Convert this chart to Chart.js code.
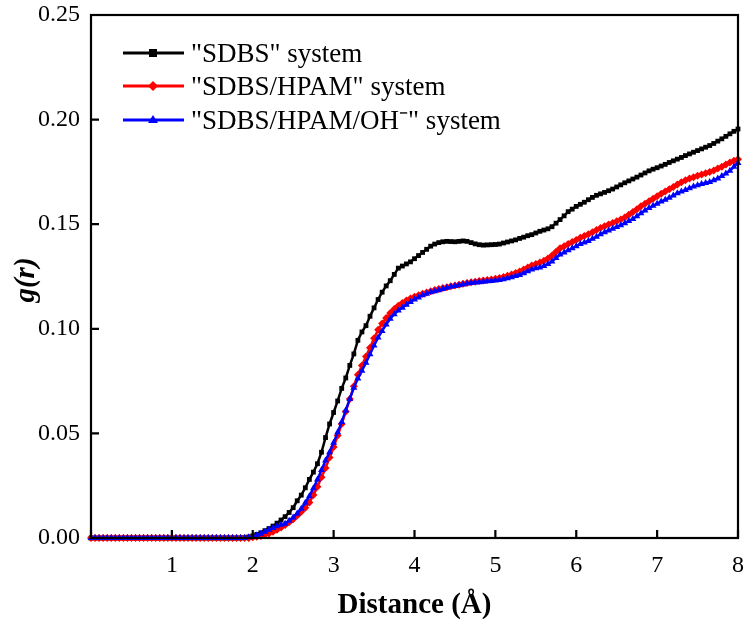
<!DOCTYPE html>
<html>
<head>
<meta charset="utf-8">
<script src="https://cdn.jsdelivr.net/npm/chart.js@4"></script>
<style>
  html, body { margin: 0; padding: 0; background: #fff; }
  #wrap { width: 748px; height: 631px; }
</style>
</head>
<body>
<div id="wrap"><canvas id="rdfChart" width="748" height="631"></canvas></div>
<script>
// distance (Å), step 0.05 from 0 to 8
const distance = [];
for (let i = 0; i <= 160; i++) distance.push(+(i * 0.05).toFixed(2));

const zeros = n => new Array(n).fill(0);

// g(r) values
const sdbs = zeros(38).concat([
  0.0002, 0.0005, 0.0010, 0.0017, 0.0025, 0.0035, 0.0045, 0.0057, 0.0071, 0.0086,
  0.0102, 0.0122, 0.0145, 0.0178, 0.0205, 0.0240, 0.0280, 0.0315, 0.0355, 0.0410,
  0.0480, 0.0545, 0.0600, 0.0655, 0.0715, 0.0765, 0.0825, 0.0880, 0.0945, 0.0985,
  0.1015, 0.1060, 0.1100, 0.1140, 0.1175, 0.1205, 0.1230, 0.1260, 0.1290, 0.1300,
  0.1310, 0.1320, 0.1335, 0.1350, 0.1365, 0.1380, 0.1395, 0.1405, 0.1412, 0.1416,
  0.1418, 0.1417, 0.1416, 0.1418, 0.1420, 0.1418, 0.1412, 0.1406, 0.1402, 0.1400,
  0.1401, 0.1402, 0.1403, 0.1405, 0.1410, 0.1415, 0.1420, 0.1425, 0.1432, 0.1438,
  0.1445, 0.1450, 0.1458, 0.1466, 0.1472, 0.1478, 0.1488, 0.1505, 0.1522, 0.1540,
  0.1560, 0.1572, 0.1585, 0.1595, 0.1605, 0.1617, 0.1628, 0.1638, 0.1645, 0.1652,
  0.1660, 0.1668, 0.1678, 0.1688, 0.1698, 0.1707, 0.1716, 0.1725, 0.1735, 0.1745,
  0.1755, 0.1763, 0.1770, 0.1778, 0.1786, 0.1795, 0.1803, 0.1811, 0.1819, 0.1828,
  0.1836, 0.1844, 0.1852, 0.1860, 0.1868, 0.1876, 0.1886, 0.1897, 0.1908, 0.1920,
  0.1932, 0.1944, 0.1955
]);

const sdbsHpam = zeros(40).concat([
  0.0003, 0.0006, 0.0010, 0.0015, 0.0022, 0.0030, 0.0040, 0.0050, 0.0062, 0.0075,
  0.0090, 0.0107, 0.0125, 0.0145, 0.0170, 0.0205, 0.0245, 0.0290, 0.0335, 0.0385,
  0.0435, 0.0490, 0.0545, 0.0605, 0.0665, 0.0725, 0.0780, 0.0825, 0.0868, 0.0910,
  0.0955, 0.0995, 0.1025, 0.1052, 0.1075, 0.1095, 0.1110, 0.1123, 0.1135, 0.1145,
  0.1153, 0.1160, 0.1167, 0.1174, 0.1180, 0.1185, 0.1190, 0.1195, 0.1199, 0.1203,
  0.1207, 0.1211, 0.1215, 0.1219, 0.1222, 0.1225, 0.1228, 0.1231, 0.1233, 0.1236,
  0.1239, 0.1243, 0.1248, 0.1254, 0.1260, 0.1267, 0.1274, 0.1283, 0.1293, 0.1302,
  0.1310, 0.1317, 0.1325, 0.1336, 0.1350, 0.1368, 0.1385, 0.1395, 0.1405, 0.1415,
  0.1425, 0.1435, 0.1443, 0.1452, 0.1462, 0.1472, 0.1482, 0.1490, 0.1498, 0.1506,
  0.1514, 0.1522, 0.1532, 0.1545, 0.1558, 0.1572, 0.1586, 0.1598, 0.1610, 0.1622,
  0.1634, 0.1645, 0.1656, 0.1667, 0.1678, 0.1690, 0.1700, 0.1710, 0.1718, 0.1725,
  0.1731, 0.1737, 0.1743, 0.1749, 0.1757, 0.1766, 0.1775, 0.1785, 0.1795, 0.1803,
  0.1810
]);

const sdbsHpamOh = zeros(39).concat([
  0.0003, 0.0007, 0.0013, 0.0020, 0.0030, 0.0040, 0.0048, 0.0056, 0.0063, 0.0068,
  0.0082, 0.0098, 0.0117, 0.0140, 0.0168, 0.0200, 0.0238, 0.0280, 0.0325, 0.0370,
  0.0410, 0.0455, 0.0505, 0.0555, 0.0610, 0.0665, 0.0718, 0.0762, 0.0800, 0.0838,
  0.0878, 0.0920, 0.0958, 0.0990, 0.1020, 0.1048, 0.1070, 0.1087, 0.1101, 0.1115,
  0.1128, 0.1140, 0.1150, 0.1160, 0.1168, 0.1175, 0.1180, 0.1184, 0.1190, 0.1196,
  0.1201, 0.1205, 0.1208, 0.1212, 0.1216, 0.1219, 0.1221, 0.1223, 0.1225, 0.1227,
  0.1229, 0.1231, 0.1233, 0.1237, 0.1242, 0.1247, 0.1252, 0.1257, 0.1265, 0.1275,
  0.1283, 0.1289, 0.1293, 0.1300, 0.1310, 0.1322, 0.1338, 0.1355, 0.1365, 0.1375,
  0.1385, 0.1395, 0.1405, 0.1413, 0.1420, 0.1430, 0.1440, 0.1452, 0.1462, 0.1470,
  0.1478, 0.1487, 0.1495, 0.1505, 0.1515, 0.1525, 0.1538, 0.1552, 0.1566, 0.1578,
  0.1588, 0.1598, 0.1608, 0.1617, 0.1627, 0.1637, 0.1648, 0.1656, 0.1664, 0.1672,
  0.1680, 0.1686, 0.1692, 0.1697, 0.1702, 0.1710, 0.1718, 0.1730, 0.1742, 0.1755,
  0.1775, 0.1792
]);

const seriesNames = ['"SDBS" system', '"SDBS/HPAM" system', '"SDBS/HPAM/OH\u207B" system'];
const seriesColors = ['#000000', '#ff0000', '#0000ff'];
const seriesMarkers = ['rect', 'rectRot', 'triangle'];
const xTicks = [0, 1, 2, 3, 4, 5, 6, 7, 8];
const yTicks = [0, 0.05, 0.10, 0.15, 0.20, 0.25];

const SERIF = '"Liberation Serif", "Times New Roman", serif';

function pts(ys) {
  return distance.map((x, i) => ({ x: x, y: ys[i] }));
}

// box, inward ticks, axis titles and legend
const framePlugin = {
  id: 'frame',
  afterDatasetsDraw(chart) {
    const ctx = chart.ctx;
    const a = chart.chartArea;
    const xs = chart.scales.x, ys = chart.scales.y;
    ctx.save();
    ctx.strokeStyle = '#000';
    ctx.lineWidth = 2.2;
    ctx.strokeRect(a.left, a.top, a.right - a.left, a.bottom - a.top);
    ctx.beginPath();
    xTicks.forEach(v => {
      const px = xs.getPixelForValue(v);
      ctx.moveTo(px, a.bottom);
      ctx.lineTo(px, a.bottom - 8);
    });
    yTicks.forEach(v => {
      const py = ys.getPixelForValue(v);
      ctx.moveTo(a.left, py);
      ctx.lineTo(a.left + 8, py);
    });
    ctx.stroke();

    // axis titles
    ctx.fillStyle = '#000';
    ctx.font = 'bold 29px ' + SERIF;
    ctx.textAlign = 'center';
    ctx.textBaseline = 'middle';
    ctx.fillText('Distance (\u00C5)', (a.left + a.right) / 2, 606);
    ctx.save();
    ctx.translate(27, 280);
    ctx.rotate(-Math.PI / 2);
    ctx.font = 'bold italic 29px ' + SERIF;
    ctx.fillText('g(r)', 0, 0);
    ctx.restore();

    // legend
    const rowsY = [53, 86, 120];
    ctx.font = '27px ' + SERIF;
    ctx.textAlign = 'left';
    seriesNames.forEach((name, i) => {
      const y = rowsY[i];
      ctx.strokeStyle = seriesColors[i];
      ctx.lineWidth = 3;
      ctx.beginPath();
      ctx.moveTo(123, y);
      ctx.lineTo(184, y);
      ctx.stroke();
      ctx.fillStyle = seriesColors[i];
      const r = 4;
      ctx.beginPath();
      if (i === 0) {
        ctx.rect(153 - r, y - r, 2 * r, 2 * r);
      } else if (i === 1) {
        ctx.moveTo(153, y - r - 1); ctx.lineTo(153 + r + 1, y);
        ctx.lineTo(153, y + r + 1); ctx.lineTo(153 - r - 1, y);
      } else {
        ctx.moveTo(153, y - r - 1); ctx.lineTo(153 + r + 1, y + r - 1);
        ctx.lineTo(153 - r - 1, y + r - 1);
      }
      ctx.closePath();
      ctx.fill();
      ctx.fillStyle = '#000';
      ctx.fillText(name, 191, y + 2);
    });
    ctx.restore();
  }
};

const datasets = [sdbs, sdbsHpam, sdbsHpamOh].map((ys, i) => ({
  label: seriesNames[i],
  data: pts(ys),
  borderColor: seriesColors[i],
  backgroundColor: seriesColors[i],
  borderWidth: 2.5,
  pointStyle: seriesMarkers[i],
  pointRadius: i === 0 ? 3.4 : 4,
  pointBorderWidth: 0,
  pointHoverRadius: 0,
  tension: 0,
  fill: false,
  clip: 4,
  order: 2 - i
}));

new Chart(document.getElementById('rdfChart').getContext('2d'), {
  type: 'line',
  data: { datasets: datasets },
  plugins: [framePlugin],
  options: {
    responsive: false,
    animation: false,
    layout: { padding: { top: 15, right: 10, left: 0, bottom: 0 } },
    plugins: {
      legend: { display: false },
      tooltip: { enabled: false }
    },
    scales: {
      x: {
        type: 'linear',
        min: 0,
        max: 8,
        afterBuildTicks: s => { s.ticks = xTicks.map(v => ({ value: v })); },
        afterFit: s => { s.height = 93; s.paddingLeft = 0; s.paddingRight = 0; },
        grid: { display: false, drawTicks: false },
        border: { display: false },
        ticks: {
          padding: 13,
          color: '#000',
          font: { family: SERIF, size: 24 },
          maxRotation: 0,
          callback: v => (v === 0 ? '' : String(v))
        }
      },
      y: {
        type: 'linear',
        min: 0,
        max: 0.25,
        afterBuildTicks: s => { s.ticks = yTicks.map(v => ({ value: v })); },
        afterFit: s => { s.width = 91; s.paddingTop = 0; s.paddingBottom = 0; },
        grid: { display: false, drawTicks: false },
        border: { display: false },
        ticks: {
          padding: 11,
          color: '#000',
          font: { family: SERIF, size: 24 },
          callback: v => v.toFixed(2)
        }
      }
    }
  }
});
</script>
</body>
</html>
